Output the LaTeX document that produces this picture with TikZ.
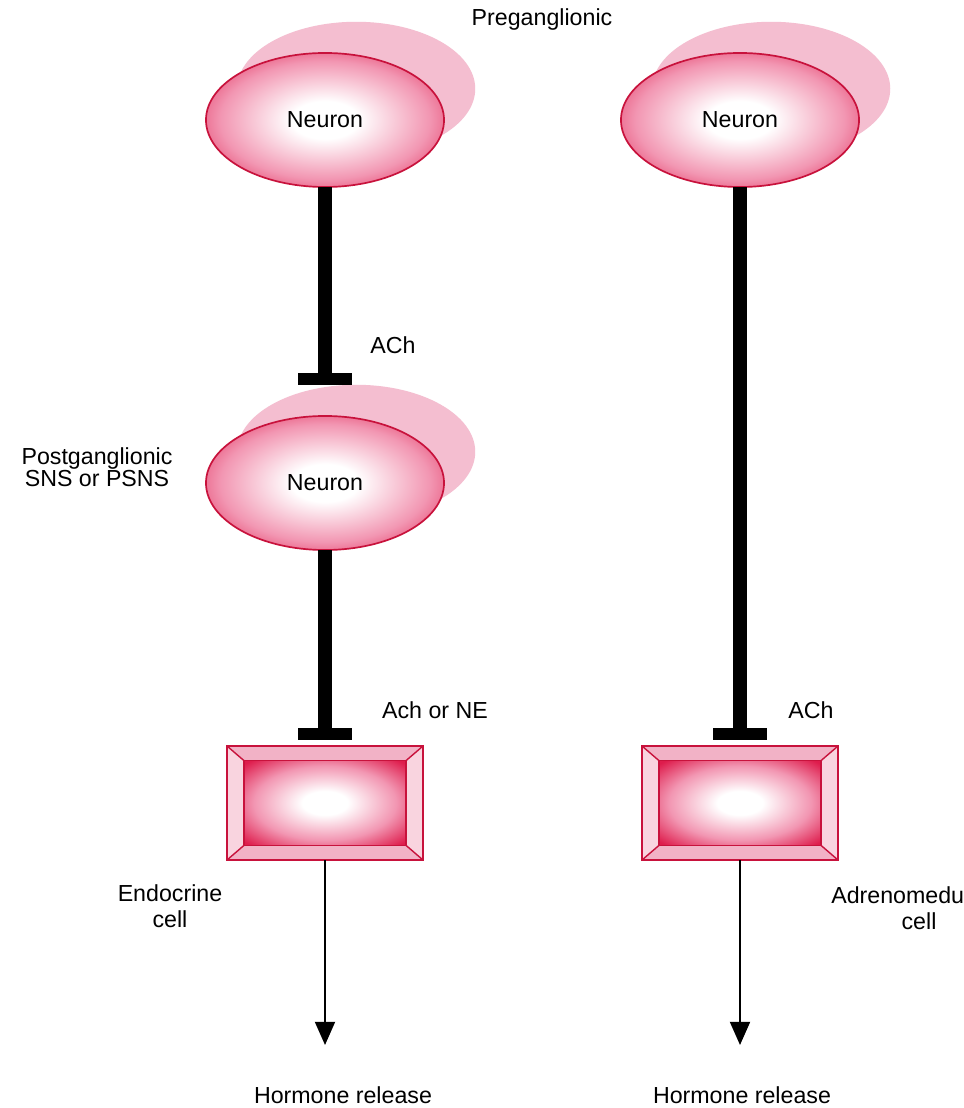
\documentclass[tikz,border=0pt]{standalone}
\usepackage{fontspec}
\setmainfont{Liberation Sans}
\usetikzlibrary{shapes.geometric,arrows.meta,shadows}

\definecolor{cellred}{RGB}{222,28,76}
\definecolor{cellpink}{RGB}{242,150,178}
\definecolor{cellrim}{RGB}{200,18,60}
\definecolor{shadowpink}{RGB}{244,190,208}
\definecolor{bevelpink}{RGB}{242,178,198}
\definecolor{bevelside}{RGB}{249,212,223}

\pgfdeclareradialshading{cellglow}{\pgfpoint{0bp}{0bp}}{color(0bp)=(white); color(7bp)=(white); color(22bp)=(cellpink); color(34bp)=(cellred); color(50bp)=(cellred)}

\begin{document}
\begin{tikzpicture}[x=0.025cm,y=-0.025cm,
    every node/.style={font=\fontsize{16.5}{15.5}\selectfont},
    neuron/.style={ellipse, draw=cellrim, line width=1.2pt, shade, shading=cellglow,
        minimum width=5.95cm, minimum height=3.35cm, inner sep=0pt, outer sep=0pt,
        general shadow={fill=shadowpink, shadow xshift=0.78cm, shadow yshift=0.78cm}},
    cellbox/.style={rectangle, draw=cellrim, line width=1.2pt, fill=bevelside,
        minimum width=4.9cm, minimum height=2.85cm, inner sep=0pt, outer sep=0pt,
        path picture={
            \fill[bevelpink] (path picture bounding box.north west) -- ++(0.43cm,-0.37cm)
                -- ++(4.04cm,0) -- (path picture bounding box.north east) -- cycle;
            \fill[bevelpink] (path picture bounding box.south west) -- ++(0.43cm,0.37cm)
                -- ++(4.04cm,0) -- (path picture bounding box.south east) -- cycle;
            \shade[shading=cellglow, draw=cellrim, line width=1pt]
                ([shift={(0.43cm,-0.37cm)}]path picture bounding box.north west) rectangle
                ([shift={(-0.43cm,0.37cm)}]path picture bounding box.south east);
            \foreach \c/\dx/\dy in {north west/0.43/-0.37, north east/-0.43/-0.37,
                                    south west/0.43/0.37, south east/-0.43/0.37}
                \draw[cellrim, line width=1pt] (path picture bounding box.\c) -- ++(\dx cm,\dy cm);
        }},
    axon/.style={line width=0.37cm, -{Rectangle[length=0.3cm, width=1.33cm, line width=0pt]}},
    release/.style={line width=1.4pt, -{Triangle[length=0.58cm, width=0.5cm]}}]

    \clip (0,0) rectangle (963,1108);
    \fill[white] (0,0) rectangle (963,1108);

    % Nodes
    \node[neuron] (neuronL1) at (325,120) {Neuron};
    \node[neuron] (neuronL2) at (325,483) {Neuron};
    \node[neuron] (neuronR) at (740,120) {Neuron};
    \node[cellbox] (boxL) at (325,803) {};
    \node[cellbox] (boxR) at (740,803) {};

    \coordinate (synL1) at (325,385);
    \coordinate (synL2) at (325,740);
    \coordinate (synR) at (740,740);
    \coordinate (outL) at (325,1045);
    \coordinate (outR) at (740,1045);

    % Labels
    \node (pregang) at (542,20) {Preganglionic};
    \node (achL) at (393,345) {ACh};
    \node[align=center] (postgang) at (97,467) {Postganglionic\\SNS or PSNS};
    \node (achne) at (435,710) {Ach or NE};
    \node (achR) at (811,710) {ACh};
    \node[align=center] (endocrine) at (170,906) {Endocrine\\[0.1cm]cell};
    \node[align=center] (adreno) at (919,908) {Adrenomedullary\\[0.1cm]cell};
    \node (hormoneL) at (343,1095) {Hormone release};
    \node (hormoneR) at (742,1095) {Hormone release};

    % Edges
    \draw[axon] (neuronL1) -- (synL1);
    \draw[axon] (neuronL2) -- (synL2);
    \draw[axon] (neuronR) -- (synR);

    \draw[release] (boxL) -- (outL);
    \draw[release] (boxR) -- (outR);
\end{tikzpicture}
\end{document}
